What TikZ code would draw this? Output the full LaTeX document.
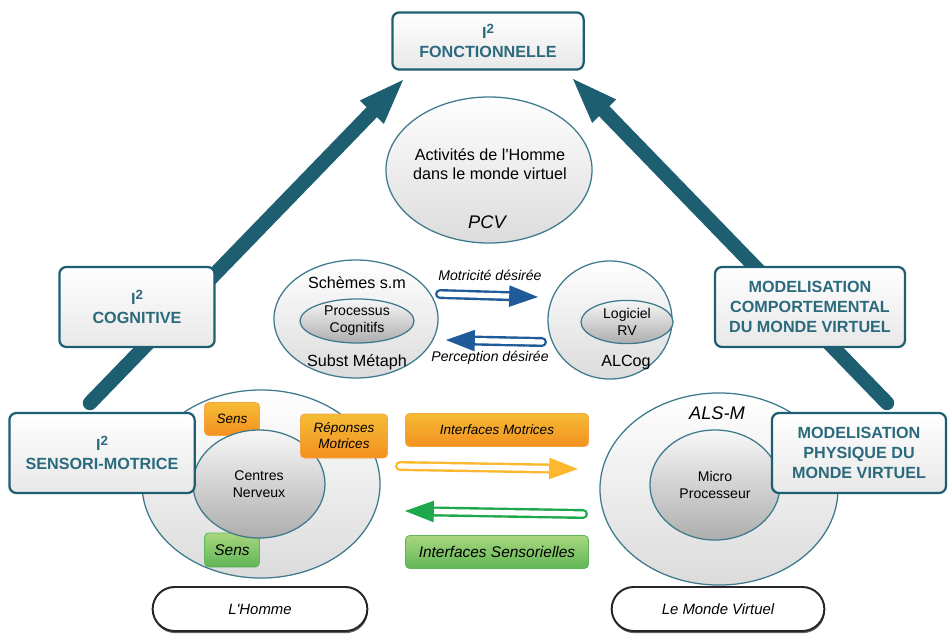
\documentclass[tikz,border=0pt]{standalone}
\usepackage{fontspec}
\setmainfont{Liberation Sans}
\usetikzlibrary{shapes.geometric,shapes.misc,shadows,calc}

\definecolor{tealdark}{HTML}{1D5F70}
\definecolor{tealtext}{HTML}{2B6A7D}
\definecolor{ringline}{HTML}{3E7A8C}
\definecolor{blueflow}{HTML}{1F5B98}
\definecolor{yellowflow}{HTML}{FDB830}
\definecolor{greenflow}{HTML}{1EA84B}
\definecolor{orangetop}{HTML}{F5BC35}
\definecolor{orangebot}{HTML}{F39020}
\definecolor{orangeline}{HTML}{F7A540}
\definecolor{greentop}{HTML}{A9D67E}
\definecolor{greenbot}{HTML}{5FB556}
\definecolor{greenline}{HTML}{5DB85D}

\newcommand{\isq}{I\raisebox{0.55ex}{\fontsize{9.5}{10}\selectfont 2}}

\begin{document}
\begin{tikzpicture}[
        x=0.025cm, y=-0.025cm,
        line cap=round,
        line join=round,
        ibox/.style={draw=tealdark, line width=1.6pt, rounded corners=5pt, top color=white, bottom color=black!9,
            text=tealtext, font=\bfseries\fontsize{11.5}{14}\selectfont, align=center, inner sep=0pt},
        ring/.style={ellipse, draw=ringline, line width=0.9pt, top color=white, bottom color=black!14, inner sep=0pt},
        core/.style={ellipse, draw=ringline, line width=0.9pt, top color=black!3, bottom color=black!32,
            align=center, inner sep=0pt, font=\fontsize{10}{12}\selectfont},
        obox/.style={draw=orangeline, line width=0.6pt, rounded corners=3pt, top color=orangetop, bottom color=orangebot,
            align=center, inner sep=0pt, font=\itshape\fontsize{9.6}{11.5}\selectfont},
        gbox/.style={draw=greenline, line width=0.6pt, rounded corners=3pt, top color=greentop, bottom color=greenbot,
            align=center, inner sep=0pt, font=\itshape\fontsize{11}{13}\selectfont},
        pill/.style={rounded rectangle, draw=black!85, line width=1.4pt, fill=white,
            drop shadow={shadow xshift=0.4pt, shadow yshift=-1.5pt, opacity=0.75, fill=black!80},
            font=\itshape\fontsize{10.6}{12}\selectfont},
        txt/.style={font=\fontsize{11.5}{14}\selectfont, align=center},
        flowlbl/.style={font=\itshape\fontsize{10}{12}\selectfont},
        bigshaft/.style={draw=tealdark, line width=0.36cm},
        hollow/.style={line width=0.06cm, double=white, double distance=0.13cm}
    ]
        \useasboundingbox (0,0) rectangle (948,633);

        % big arrows towards the functional level
        \coordinate (lstart) at (90,403);
        \coordinate (ltip) at (403,80);
        \coordinate (rstart) at (887,403);
        \coordinate (rtip) at (573,79);
        \foreach \s/\t in {lstart/ltip, rstart/rtip}{
            \coordinate (b) at ($(\t)!1.12cm!(\s)$);
            \draw[bigshaft] (\s) -- (b);
            \fill[tealdark] (\t) -- ($(b)!0.42cm!90:(\t)$) -- ($(b)!0.42cm!-90:(\t)$) -- cycle;
        }

        % ellipses
        \node[ring, minimum width=5.15cm, minimum height=3.65cm] (pcv) at (489,170) {};
        \node[ring, minimum width=4.1cm, minimum height=2.95cm] (schemes) at (356,319) {};
        \node[ring, minimum width=3.1cm, minimum height=2.95cm] (alcog) at (610,320) {};
        \node[ring, minimum width=5.95cm, minimum height=4.7cm] (homme) at (261,484) {};
        \node[ring, minimum width=5.95cm, minimum height=4.8cm] (monde) at (719,489) {};

        \node[obox, minimum width=1.375cm, minimum height=0.825cm] (senso) at (232,419) {Sens};
        \node[gbox, minimum width=1.375cm, minimum height=0.85cm] (sensg) at (232,550) {Sens};

        \node[core, minimum width=2.85cm, minimum height=1.1cm] (proc) at (357,321) {Processus\\Cognitifs};
        \node[core, minimum width=2.3cm, minimum height=1.08cm] (logiciel) at (627,322) {Logiciel\\RV};
        \node[core, minimum width=3.3cm, minimum height=2.7cm] (centres) at (259,484) {Centres\\Nerveux};
        \node[core, minimum width=3.25cm, minimum height=2.75cm] (micro) at (715,485) {Micro\\Processeur};

        \node[obox, minimum width=2.175cm, minimum height=1.1cm] (reponses) at (344,436) {Réponses\\Motrices};
        \node[obox, minimum width=4.575cm, minimum height=0.825cm] (imot) at (497,430) {Interfaces Motrices};
        \node[gbox, minimum width=4.575cm, minimum height=0.825cm] (isens) at (497,552) {Interfaces Sensorielles};

        % texts
        \node[txt] (pcvtxt) at (490,164) {Activités de l\textquotesingle Homme\\dans le monde virtuel};
        \node[font=\itshape\fontsize{13}{15}\selectfont] (pcvlbl) at (487,222) {PCV};
        \node[txt] (schtop) at (357,283) {Schèmes s.m};
        \node[txt] (schbot) at (357,362) {Subst Métaph};
        \node[txt] (alcoglbl) at (626,363) {ALCog};
        \node[font=\itshape\fontsize{13}{15}\selectfont] (alsm) at (717,413) {ALS-M};
        \node[flowlbl] (motlbl) at (490,275) {Motricité désirée};
        \node[flowlbl] (perclbl) at (490,358) {Perception désirée};

        % intelligence levels
        \node[ibox, minimum width=4.78cm, minimum height=1.43cm] (fonc) at (488,41) {\isq\\FONCTIONNELLE};
        \node[ibox, minimum width=3.88cm, minimum height=2cm] (cog) at (137,307) {\isq\\COGNITIVE};
        \node[ibox, minimum width=4.63cm, minimum height=2cm] (smot) at (102,453) {\isq\\SENSORI-MOTRICE};
        \node[ibox, minimum width=4.75cm, minimum height=2cm] (mcomp) at (810,307) {MODELISATION\\COMPORTEMENTAL\\DU MONDE VIRTUEL};
        \node[ibox, minimum width=4.35cm, minimum height=2cm] (mphys) at (859,453) {MODELISATION\\PHYSIQUE DU\\MONDE VIRTUEL};

        % hollow flow arrows
        \coordinate (ma) at (440,294);
        \coordinate (mb) at (538,297);
        \coordinate (pa) at (542,342);
        \coordinate (pb) at (446,340);
        \coordinate (ya) at (400,466);
        \coordinate (yb) at (578,469);
        \coordinate (ga) at (583,514);
        \coordinate (gb) at (405,511);
        \foreach \s/\t/\c in {ma/mb/blueflow, pa/pb/blueflow, ya/yb/yellowflow, ga/gb/greenflow}{
            \coordinate (h) at ($(\t)!0.72cm!(\s)$);
            \draw[hollow, draw=\c] (\s) -- (h);
            \fill[\c] (\t) -- ($(h)!0.27cm!90:(\t)$) -- ($(h)!0.27cm!-90:(\t)$) -- cycle;
        }

        % bottom labels
        \node[pill, minimum width=5.6cm, minimum height=1.1cm] (hommelbl) at (260,609) {L\textquotesingle Homme};
        \node[pill, minimum width=5.55cm, minimum height=1.1cm] (mondelbl) at (718,609) {Le Monde Virtuel};
    \end{tikzpicture}
\end{document}
